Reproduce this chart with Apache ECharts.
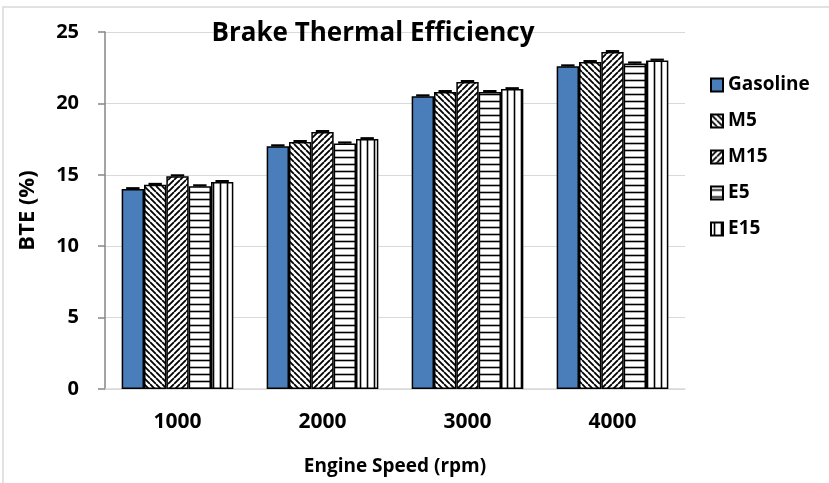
<!DOCTYPE html>
<html>
<head>
<meta charset="utf-8">
<script src="https://cdn.jsdelivr.net/npm/echarts@6/dist/echarts.min.js"></script>
<style>
  html, body { margin: 0; padding: 0; background: #fff; }
  #chart { width: 829px; height: 483px; }
</style>
</head>
<body>
<div id="chart"></div>
<script>
const speeds = ["1000", "2000", "3000", "4000"];
const fuels = ["Gasoline", "M5", "M15", "E5", "E15"];
const gasoline = [14.0, 17.0, 20.5, 22.6];
const m5 = [14.3, 17.3, 20.8, 22.9];
const m15 = [14.9, 18.0, 21.5, 23.6];
const e5 = [14.2, 17.2, 20.8, 22.8];
const e15 = [14.5, 17.5, 21.0, 23.0];
const errors = [0.06, 0.06, 0.06, 0.06];
const yTicks = [0, 5, 10, 15, 20, 25];

const FONT = "Open Sans";

// hatch patterns drawn into small canvases
const makePattern = (kind) => {
  const s = kind === "h" || kind === "v" ? 7 : 6;
  const c = document.createElement("canvas");
  c.width = s;
  c.height = s;
  const ctx = c.getContext("2d");
  ctx.fillStyle = "#fff";
  ctx.fillRect(0, 0, s, s);
  ctx.strokeStyle = "#000";
  ctx.lineWidth = kind === "h" || kind === "v" ? 1.6 : 1.8;
  ctx.beginPath();
  if (kind === "back") {
    for (const k of [-s, 0, s]) {
      ctx.moveTo(k, 0);
      ctx.lineTo(k + s, s);
    }
  } else if (kind === "fwd") {
    for (const k of [-s, 0, s]) {
      ctx.moveTo(k + s, 0);
      ctx.lineTo(k, s);
    }
  } else if (kind === "h") {
    ctx.moveTo(0, s / 2);
    ctx.lineTo(s, s / 2);
  } else {
    ctx.moveTo(s / 2, 0);
    ctx.lineTo(s / 2, s);
  }
  ctx.stroke();
  return { image: c, repeat: "repeat" };
};

const fills = [
  "#4a7ebb",
  makePattern("back"),
  makePattern("fwd"),
  makePattern("h"),
  makePattern("v"),
];
const values = [gasoline, m5, m15, e5, e15];
const CAT_GAP = 0.23;

const chartInstance = echarts.init(document.getElementById("chart"));

const barSeries = fuels.map((name, i) => ({
  name: name,
  type: "bar",
  data: values[i],
  barGap: "0%",
  barCategoryGap: CAT_GAP * 100 + "%",
  itemStyle: {
    color: fills[i],
    borderColor: "#000",
    borderWidth: 1.5,
  },
  emphasis: { disabled: true },
}));

// error bar caps, one point per bar
const errData = [];
values.forEach((arr, si) => {
  arr.forEach((v, ci) => {
    errData.push([ci, v, si, errors[ci]]);
  });
});

const errSeries = {
  type: "custom",
  name: "err",
  z: 5,
  data: errData,
  renderItem: (params, api) => {
    const ci = api.value(0);
    const v = api.value(1);
    const si = api.value(2);
    const e = api.value(3);
    const center = api.coord([ci, v]);
    const band = api.size([1, 0])[0];
    const bw = (band * (1 - CAT_GAP)) / fuels.length;
    const x = center[0] + (si - (fuels.length - 1) / 2) * bw;
    const top = api.coord([ci, v + e])[1];
    const half = bw * 0.3;
    return {
      type: "group",
      children: [
        {
          type: "line",
          shape: { x1: x, y1: center[1], x2: x, y2: top },
          style: { stroke: "#000", lineWidth: 1.5 },
        },
        {
          type: "line",
          shape: { x1: x - half, y1: top, x2: x + half, y2: top },
          style: { stroke: "#000", lineWidth: 2.2 },
        },
      ],
    };
  },
};

const boldText = (size) => ({
  fontFamily: FONT,
  fontWeight: "bold",
  fontSize: size,
  color: "#000",
});

const options = {
  backgroundColor: "#fff",
  animation: false,
  textStyle: { fontFamily: FONT },
  title: {
    text: "Brake Thermal Efficiency",
    left: 368,
    top: 16,
    textAlign: "center",
    textStyle: boldText(26),
  },
  legend: {
    data: fuels,
    orient: "vertical",
    left: 705,
    top: 70,
    itemWidth: 12,
    itemHeight: 13,
    itemGap: 16,
    icon: "rect",
    selectedMode: false,
    textStyle: Object.assign(boldText(19), { lineHeight: 20 }),
  },
  grid: {
    left: 105,
    right: 144,
    top: 32,
    bottom: 94,
  },
  xAxis: {
    type: "category",
    data: speeds,
    name: "Engine Speed (rpm)",
    nameLocation: "middle",
    nameGap: 68,
    nameTextStyle: boldText(19),
    axisLine: { lineStyle: { color: "#d9d9d9", width: 1.5 } },
    axisTick: { show: false },
    axisLabel: Object.assign({ margin: 23 }, boldText(21)),
  },
  yAxis: {
    type: "value",
    min: yTicks[0],
    max: yTicks[yTicks.length - 1],
    interval: 5,
    name: "BTE (%)",
    nameLocation: "middle",
    nameGap: 66,
    nameTextStyle: boldText(22),
    axisLine: { show: true, lineStyle: { color: "#868686", width: 1.5 } },
    axisTick: { show: true, length: 7, lineStyle: { color: "#868686", width: 1.5 } },
    axisLabel: Object.assign({ margin: 26 }, boldText(20)),
    splitLine: { lineStyle: { color: "#d9d9d9", width: 1.2 } },
  },
  graphic: [
    {
      type: "rect",
      shape: { x: 3, y: 7, width: 840, height: 490 },
      style: { fill: "none", stroke: "#d9d9d9", lineWidth: 1.5 },
      silent: true,
    },
  ],
  series: [...barSeries, errSeries],
};

chartInstance.setOption(options);
window.addEventListener("resize", () => {
  chartInstance.resize();
});
</script>
</body>
</html>
